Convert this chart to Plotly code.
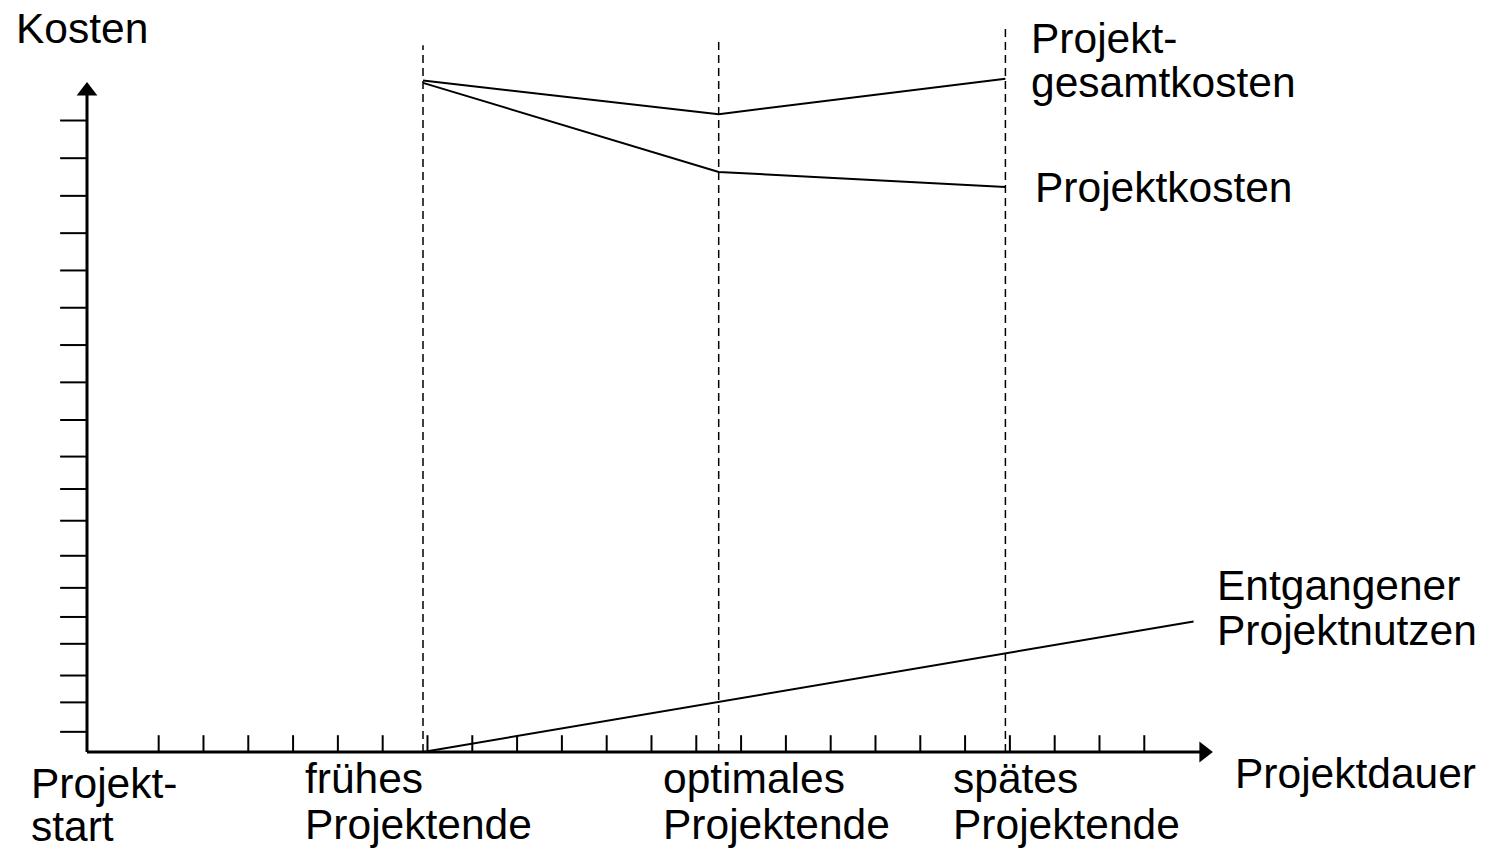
import plotly.graph_objects as go

# ---------------- data (diagram units: x = Projektdauer, y = Kosten) ----------------
x_ticks = [1.6, 2.6, 3.6, 4.6, 5.6, 6.6, 7.6, 8.6, 9.6, 10.6, 11.6, 12.6,
           13.6, 14.6, 15.6, 16.6, 17.6, 18.6, 19.6, 20.6, 21.6, 22.6, 23.6]
y_ticks = [0.54, 1.33, 2.05, 2.90, 3.62, 4.40, 5.26, 6.20, 7.05, 7.92, 8.90,
           9.91, 10.91, 11.91, 12.91, 13.91, 14.91, 15.92, 16.93]

milestone_x = [7.5, 14.1, 20.5]          # frühes / optimales / spätes Projektende
milestone_top = [18.95, 19.14, 19.49]

gesamt_x = [7.5, 14.1, 20.5]
gesamt_y = [18.0, 17.1, 18.05]
projekt_x = [7.5, 14.1, 20.5]
projekt_y = [17.94, 15.55, 15.15]
nutzen_x = [7.5, 24.7]
nutzen_y = [0.0, 3.5]

x_axis_end = 24.93
y_axis_end = 17.72

labels = [
    ("Kosten", -1.63, 19.40),
    ("Projekt-", 21.03, 19.12),
    ("gesamtkosten", 21.03, 17.95),
    ("Projektkosten", 21.12, 15.13),
    ("Entgangener", 25.18, 4.46),
    ("Projektnutzen", 25.18, 3.25),
    ("Projektdauer", 25.58, -0.59),
    ("Projekt-", -1.29, -0.85),
    ("start", -1.29, -2.00),
    ("frühes", 4.82, -0.72),
    ("Projektende", 4.82, -1.95),
    ("optimales", 12.81, -0.72),
    ("Projektende", 12.81, -1.95),
    ("spätes", 19.29, -0.72),
    ("Projektende", 19.29, -1.95),
]

X_RANGE = [-1.942, 31.272]
Y_RANGE = [-2.601, 20.161]
FONT = "Arial, Liberation Sans, sans-serif"

fig = go.Figure()


def segments(xs0, xs1, ys0, ys1):
    xs, ys = [], []
    for a, b, c, d in zip(xs0, xs1, ys0, ys1):
        xs += [a, b, None]
        ys += [c, d, None]
    return xs, ys


# tick marks on the x axis
tx, ty = segments(x_ticks, x_ticks, [0] * len(x_ticks), [0.45] * len(x_ticks))
fig.add_trace(go.Scatter(x=tx, y=ty, mode="lines",
                         line=dict(color="black", width=2), hoverinfo="skip"))
# tick marks on the y axis
tx, ty = segments([-0.6] * len(y_ticks), [0] * len(y_ticks), y_ticks, y_ticks)
fig.add_trace(go.Scatter(x=tx, y=ty, mode="lines",
                         line=dict(color="black", width=2), hoverinfo="skip"))

# dashed milestone lines
tx, ty = segments(milestone_x, milestone_x, [0] * 3, milestone_top)
fig.add_trace(go.Scatter(x=tx, y=ty, mode="lines",
                         line=dict(color="black", width=1.5, dash="8px,5px"),
                         hoverinfo="skip"))

# axes
fig.add_trace(go.Scatter(x=[0, 0], y=[0, y_axis_end], mode="lines",
                         line=dict(color="black", width=3), hoverinfo="skip"))
fig.add_trace(go.Scatter(x=[0, x_axis_end], y=[0, 0], mode="lines",
                         line=dict(color="black", width=3), hoverinfo="skip"))
fig.add_trace(go.Scatter(x=[0], y=[y_axis_end], mode="markers",
                         marker=dict(symbol="triangle-up", size=18, color="black"),
                         hoverinfo="skip"))
fig.add_trace(go.Scatter(x=[x_axis_end], y=[0], mode="markers",
                         marker=dict(symbol="triangle-right", size=18, color="black"),
                         hoverinfo="skip"))

# cost curves
for xs, ys in [(gesamt_x, gesamt_y), (projekt_x, projekt_y), (nutzen_x, nutzen_y)]:
    fig.add_trace(go.Scatter(x=xs, y=ys, mode="lines",
                             line=dict(color="black", width=2), hoverinfo="skip"))

for text, x, y in labels:
    fig.add_annotation(x=x, y=y, xref="x", yref="y", text=text, showarrow=False,
                       xanchor="left", yanchor="middle",
                       font=dict(family=FONT, size=42.5, color="black"))

fig.update_layout(
    width=1488, height=849, autosize=False,
    margin=dict(l=0, r=0, t=0, b=0),
    paper_bgcolor="white", plot_bgcolor="white",
    showlegend=False,
    xaxis=dict(range=X_RANGE, visible=False, fixedrange=True),
    yaxis=dict(range=Y_RANGE, visible=False, fixedrange=True),
)

fig.write_html("out.html",
               config={"displayModeBar": False},
               post_script="document.body.style.margin='0';document.body.style.overflow='hidden';")
